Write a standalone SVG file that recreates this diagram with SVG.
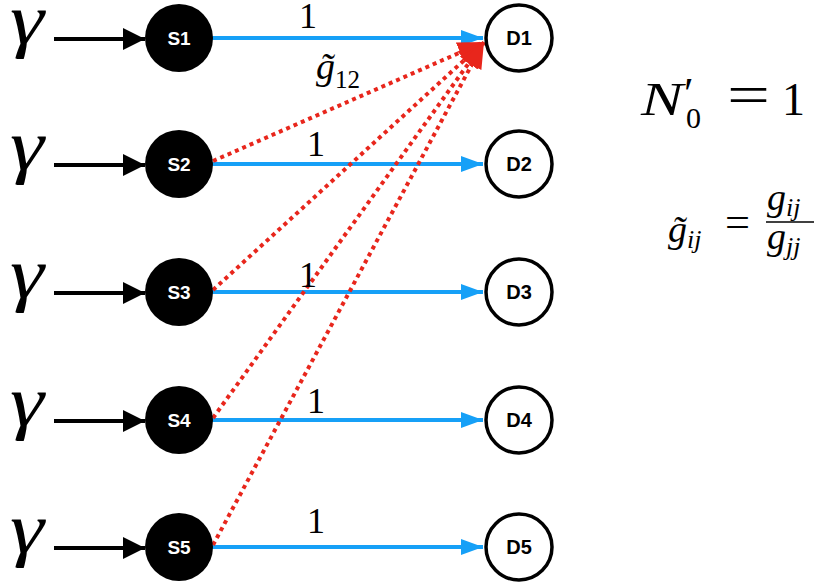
<svg xmlns="http://www.w3.org/2000/svg" width="814" height="588" viewBox="0 0 814 588">
<style>
.src{fill:#000}
.dst{fill:#fff;stroke:#000;stroke-width:3.5}
.sl{font-family:"Liberation Sans",Arial,sans-serif;font-weight:bold;font-size:19px;fill:#fff;text-anchor:middle}
.dl{font-family:"Liberation Sans",Arial,sans-serif;font-weight:bold;font-size:20px;fill:#000;text-anchor:middle}
.gam{font-family:"Liberation Serif","Times New Roman",serif;font-style:italic;font-size:72px;fill:#000}
.num{font-family:"Liberation Serif","Times New Roman",serif;font-size:36px;fill:#000;text-anchor:middle}
.math{font-family:"Liberation Serif","Times New Roman",serif;fill:#000}
.it{font-style:italic}
.blk{stroke:#000;stroke-width:4;fill:none}
.blu{stroke:#16A0F7;stroke-width:4;fill:none}
.red{stroke:#E8261C;stroke-width:4;stroke-dasharray:4 4;fill:none}
</style>
<defs>
<marker id="ab" markerUnits="userSpaceOnUse" markerWidth="24" markerHeight="24" refX="22" refY="11" orient="auto"><path d="M0,0 L22,11 L0,22 z" fill="#000"/></marker>
<marker id="au" markerUnits="userSpaceOnUse" markerWidth="24" markerHeight="18" refX="22" refY="8" orient="auto"><path d="M0,0 L22,8 L0,16 z" fill="#16A0F7"/></marker>
<marker id="ar" markerUnits="userSpaceOnUse" markerWidth="28" markerHeight="24" refX="26" refY="11" orient="auto"><path d="M0,0 L26,11 L0,22 z" fill="#E8261C"/></marker>
</defs>
<g id="inputs">
<text class="gam" x="10" y="44" textLength="34" lengthAdjust="spacingAndGlyphs">γ</text>
<text class="gam" x="10" y="170" textLength="34" lengthAdjust="spacingAndGlyphs">γ</text>
<text class="gam" x="10" y="298" textLength="34" lengthAdjust="spacingAndGlyphs">γ</text>
<text class="gam" x="10" y="426" textLength="34" lengthAdjust="spacingAndGlyphs">γ</text>
<text class="gam" x="10" y="553" textLength="34" lengthAdjust="spacingAndGlyphs">γ</text>
</g>
<g id="connectors">
<line class="blk" x1="54" y1="39" x2="145" y2="39" marker-end="url(#ab)"/>
<line class="blk" x1="54" y1="165" x2="145" y2="165" marker-end="url(#ab)"/>
<line class="blk" x1="54" y1="293" x2="145" y2="293" marker-end="url(#ab)"/>
<line class="blk" x1="54" y1="421" x2="145" y2="421" marker-end="url(#ab)"/>
<line class="blk" x1="54" y1="548" x2="145" y2="548" marker-end="url(#ab)"/>
<line class="blu" x1="212" y1="38" x2="483" y2="38" marker-end="url(#au)"/>
<line class="blu" x1="212" y1="164" x2="483" y2="164" marker-end="url(#au)"/>
<line class="blu" x1="212" y1="292" x2="483" y2="292" marker-end="url(#au)"/>
<line class="blu" x1="212" y1="420" x2="483" y2="420" marker-end="url(#au)"/>
<line class="blu" x1="212" y1="547" x2="483" y2="547" marker-end="url(#au)"/>
<line class="red" x1="213" y1="161" x2="484" y2="42" marker-end="url(#ar)"/>
<line class="red" x1="213" y1="290" x2="484" y2="42" marker-end="url(#ar)"/>
<line class="red" x1="213" y1="418" x2="484" y2="42" marker-end="url(#ar)"/>
<line class="red" x1="213" y1="545" x2="484" y2="42" marker-end="url(#ar)"/>
<text class="num" x="308" y="28">1</text>
<text class="num" x="316" y="156">1</text>
<text class="num" x="308" y="287">1</text>
<text class="num" x="316" y="413">1</text>
<text class="num" x="316" y="533">1</text>
<text class="math" x="316" y="79" font-size="38"><tspan class="it">g&#x303;</tspan><tspan font-size="25" dy="9">12</tspan></text>
</g>
<g id="S1"><circle class="src" cx="179" cy="38" r="34"/><text class="sl" x="179" y="45">S1</text></g>
<g id="S2"><circle class="src" cx="179" cy="164" r="34"/><text class="sl" x="179" y="171">S2</text></g>
<g id="S3"><circle class="src" cx="179" cy="292" r="34"/><text class="sl" x="179" y="299">S3</text></g>
<g id="S4"><circle class="src" cx="179" cy="420" r="34"/><text class="sl" x="179" y="427">S4</text></g>
<g id="S5"><circle class="src" cx="179" cy="547" r="34"/><text class="sl" x="179" y="554">S5</text></g>
<g id="D1"><circle class="dst" cx="519" cy="38" r="33"/><text class="dl" x="519" y="45">D1</text></g>
<g id="D2"><circle class="dst" cx="519" cy="164" r="33"/><text class="dl" x="519" y="171">D2</text></g>
<g id="D3"><circle class="dst" cx="519" cy="292" r="33"/><text class="dl" x="519" y="299">D3</text></g>
<g id="D4"><circle class="dst" cx="519" cy="420" r="33"/><text class="dl" x="519" y="427">D4</text></g>
<g id="D5"><circle class="dst" cx="519" cy="547" r="33"/><text class="dl" x="519" y="554">D5</text></g>
<g id="formulas">
<text class="math it" x="641" y="115" font-size="46" textLength="42" lengthAdjust="spacingAndGlyphs">N</text>
<text class="math" x="684" y="108" font-size="44">′</text>
<text class="math" x="686" y="128" font-size="30">0</text>
<text class="math" x="727" y="114" font-size="56" textLength="43" lengthAdjust="spacingAndGlyphs">=</text>
<text class="math" x="782" y="115" font-size="46">1</text>
<text class="math" x="668" y="242" font-size="38"><tspan class="it">g&#x303;</tspan><tspan class="it" font-size="26" dy="6">ij</tspan></text>
<text class="math" x="725" y="236" font-size="42" textLength="25" lengthAdjust="spacingAndGlyphs">=</text>
<text class="math" x="767" y="210" font-size="38"><tspan class="it">g</tspan><tspan class="it" font-size="26" dy="6">ij</tspan></text>
<line x1="766" y1="222" x2="814" y2="222" stroke="#000" stroke-width="1.6"/>
<text class="math" x="767" y="249" font-size="38"><tspan class="it">g</tspan><tspan class="it" font-size="26" dy="6">jj</tspan></text>
</g>
</svg>
